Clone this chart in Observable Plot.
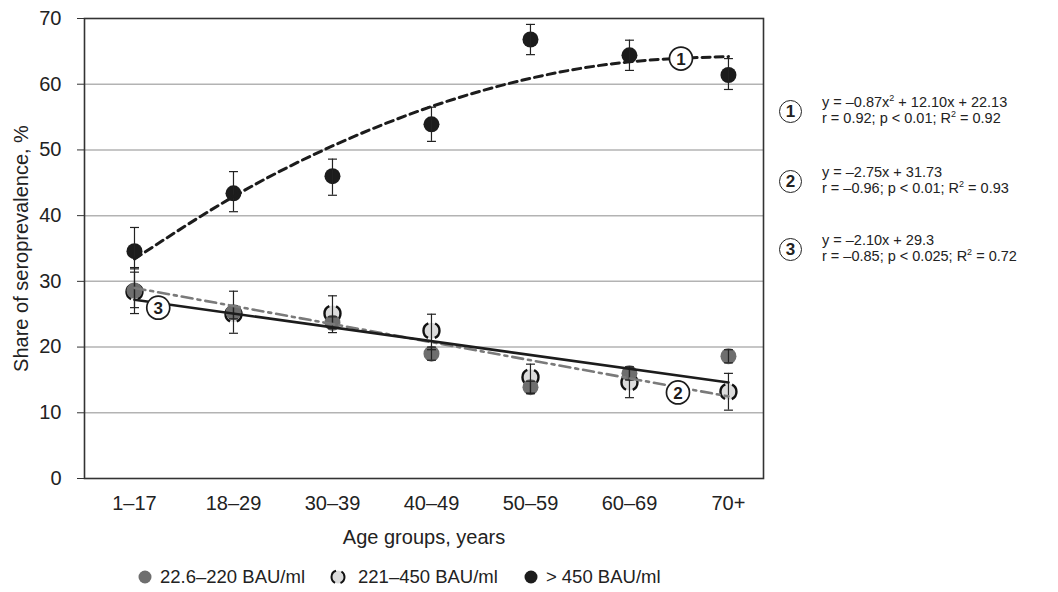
<!DOCTYPE html>
<html>
<head>
<meta charset="utf-8">
<script src="https://cdn.jsdelivr.net/npm/d3@7"></script>
<script src="https://cdn.jsdelivr.net/npm/@observablehq/plot@0.6"></script>
<style>
  html, body { margin: 0; padding: 0; background: #fff; }
  body { width: 1058px; height: 592px; overflow: hidden; font-family: "Liberation Sans", Arial, sans-serif; color: #222; }
  #wrap { position: relative; width: 1058px; }
  .eq { position: absolute; left: 779px; font-size: 14.5px; line-height: 15.5px; color: #222; }
  .eq .num { position: absolute; left: 0; top: 0; width: 21px; height: 21px; border: 1.7px solid #222; border-radius: 50%;
             font-weight: bold; font-size: 17px; line-height: 21px; text-align: center; }
  .eq .lines { position: absolute; left: 43px; top: -5px; white-space: nowrap; }
  .eq sup { font-size: 9px; vertical-align: 6px; line-height: 0; }
  #legend { display: flex; justify-content: flex-start; align-items: center; height: 30px; font-size: 18.5px; padding-left: 136px; }
  #legend .item { display: flex; align-items: center; margin-right: 24px; }
  #legend svg { margin-right: 6px; }
  #legend .item.b svg { margin-right: 11px; }
</style>
</head>
<body>
<div id="wrap"></div>
<script>
// ---- data ----
const groups = ["1–17", "18–29", "30–39", "40–49", "50–59", "60–69", "70+"];
const seriesNames = ["22.6–220 BAU/ml", "221–450 BAU/ml", "> 450 BAU/ml"];

const lowVals  = [28.6, 25.3, 23.7, 19.0, 13.9, 16.0, 18.6];
const lowErrLo = [25.1, 24.3, 22.8, 18.0, 13.0, 15.0, 17.6];
const lowErrHi = [32.1, 26.3, 24.6, 20.0, 14.8, 17.0, 19.6];

const midVals  = [28.4, 25.0, 25.1, 22.5, 15.4, 14.6, 13.2];
const midErrLo = [26.0, 22.1, 22.2, 19.6, 12.9, 12.3, 10.4];
const midErrHi = [31.4, 28.5, 27.8, 25.0, 17.4, 16.8, 16.0];

const highVals  = [34.6, 43.4, 46.0, 53.9, 66.8, 64.4, 61.4];
const highErrLo = [31.9, 40.6, 43.1, 51.3, 64.5, 62.1, 59.2];
const highErrHi = [38.2, 46.7, 48.6, 56.5, 69.1, 66.7, 63.9];

// trend lines (at group positions)
const trend1 = [33.4, 42.9, 50.6, 56.6, 60.9, 63.4, 64.2];   // quadratic, curve 1
const trend2Ends = [29.0, 12.5];                               // dash-dot line 2 (first, last group)
const trend3Ends = [27.2, 14.6];                               // solid line 3 (first, last group)

// numbered labels on the lines
const labelNums = ["1", "2", "3"];
const labelPos  = [5.52, 5.49, 0.24];   // position along the age axis (group index units)
const labelVals = [63.9, 13.1, 26.0];

const equations = [
  ["y = –0.87x<sup>2</sup> + 12.10x + 22.13", "r = 0.92; p &lt; 0.01; R<sup>2</sup> = 0.92"],
  ["y = –2.75x + 31.73", "r = –0.96; p &lt; 0.01; R<sup>2</sup> = 0.93"],
  ["y = –2.10x + 29.3", "r = –0.85; p &lt; 0.025; R<sup>2</sup> = 0.72"]
];

// ---- build tables ----
const idx = groups.map((_, i) => i);
const mk = (vals, lo, hi) => idx.map(i => ({i, v: vals[i], lo: lo[i], hi: hi[i]}));
const low = mk(lowVals, lowErrLo, lowErrHi);
const mid = mk(midVals, midErrLo, midErrHi);
const high = mk(highVals, highErrLo, highErrHi);
const t1 = idx.map(i => ({i, v: trend1[i]}));
const last = idx.length - 1;
const t2 = [{i: 0, v: trend2Ends[0]}, {i: last, v: trend2Ends[1]}];
const t3 = [{i: 0, v: trend3Ends[0]}, {i: last, v: trend3Ends[1]}];
const labels = labelNums.map((n, k) => ({n, i: labelPos[k], v: labelVals[k]}));

const cap = {draw(ctx) { ctx.moveTo(-4.5, 0); ctx.lineTo(4.5, 0); }};

const GRAY = "#6e6e6e", LIGHT = "#dcdcdc", BLACK = "#1c1c1c";
const R = 8;
const circ = 2 * Math.PI * R, deg = circ / 360;
const bracketDash = [65 * deg, 50 * deg, 130 * deg, 50 * deg, 65 * deg].map(d => d.toFixed(2)).join(" ");

function errMarks(data) {
  return [
    Plot.ruleX(data, {x: "i", y1: "lo", y2: "hi", stroke: "#222", strokeWidth: 1.2}),
    Plot.dot(data, {x: "i", y: "lo", symbol: cap, stroke: "#222", strokeWidth: 1.2, r: 4}),
    Plot.dot(data, {x: "i", y: "hi", symbol: cap, stroke: "#222", strokeWidth: 1.2, r: 4})
  ];
}

const chart = Plot.plot({
  width: 1058,
  height: 562,
  marginLeft: 84,
  marginRight: 295,
  marginTop: 18,
  marginBottom: 84,
  style: {fontFamily: "'Liberation Sans', Arial, sans-serif", fontSize: "20px", color: "#222", background: "#fff"},
  x: {domain: [-0.505, 6.354], ticks: idx, tickFormat: i => groups[i]},
  y: {domain: [0, 70], ticks: d3.range(0, 71, 10)},
  marks: [
    Plot.gridY({ticks: d3.range(10, 70, 10), stroke: "#b3b3b3", strokeOpacity: 1, strokeWidth: 1.5}),
    Plot.axisX({ticks: idx, tickFormat: i => groups[i], tickSize: 0, tickPadding: 17, fontSize: 20,
                label: "Age groups, years", labelAnchor: "center", labelOffset: 65, labelArrow: "none"}),
    Plot.axisY({ticks: d3.range(0, 71, 10), tickSize: 7, tickPadding: 16, fontSize: 20, stroke: "#333",
                label: "Share of seroprevalence, %", labelAnchor: "center", labelOffset: 71, labelArrow: "none"}),
    // mid series (bracketed light dots)
    Plot.dot(mid, {x: "i", y: "v", r: R, fill: LIGHT, stroke: "#111", strokeWidth: 2.4, strokeDasharray: bracketDash}),
    // low series
    Plot.dot(low, {x: "i", y: "v", r: R, fill: GRAY, stroke: "none"}),
    // high series
    Plot.dot(high, {x: "i", y: "v", r: R, fill: BLACK, stroke: "none"}),
    ...errMarks(mid),
    ...errMarks(low),
    ...errMarks(high),
    // trend lines
    Plot.line(t2, {x: "i", y: "v", stroke: "#7a7a7a", strokeWidth: 2.6, strokeDasharray: "11 5 3 5"}),
    Plot.line(t3, {x: "i", y: "v", stroke: BLACK, strokeWidth: 2.6}),
    Plot.line(t1, {x: "i", y: "v", curve: "natural", stroke: BLACK, strokeWidth: 3, strokeDasharray: "8 5"}),
    // numbered labels
    Plot.dot(labels, {x: "i", y: "v", r: 11.5, fill: "#fff", stroke: BLACK, strokeWidth: 1.7}),
    Plot.text(labels, {x: "i", y: "v", text: "n", fontSize: 17, fontWeight: "bold", fill: BLACK, dy: 1}),
    Plot.frame({stroke: "#333", strokeWidth: 1.6})
  ]
});

const wrap = document.getElementById("wrap");
wrap.appendChild(chart);

// equations on the right
const eqTops = [100, 170, 238];
equations.forEach((lines, k) => {
  const d = document.createElement("div");
  d.className = "eq";
  d.style.top = eqTops[k] + "px";
  d.innerHTML = `<div class="num">${labelNums[k]}</div><div class="lines">${lines[0]}<br>${lines[1]}</div>`;
  wrap.appendChild(d);
});

// legend below
const legend = document.createElement("div");
legend.id = "legend";
const sw = (kind) => {
  if (kind === 0) return `<svg width="18" height="18"><circle cx="9" cy="9" r="6.5" fill="${GRAY}"/></svg>`;
  if (kind === 1) {
    const rr = 6.5, dg = 2 * Math.PI * rr / 360;
    const dash = [65 * dg, 50 * dg, 130 * dg, 50 * dg, 65 * dg].map(v => v.toFixed(2)).join(" ");
    return `<svg width="18" height="18"><circle cx="9" cy="9" r="${rr}" fill="${LIGHT}" stroke="#111" stroke-width="2" stroke-dasharray="${dash}"/></svg>`;
  }
  return `<svg width="18" height="18"><circle cx="9" cy="9" r="6.5" fill="${BLACK}"/></svg>`;
};
legend.innerHTML = seriesNames.map((n, k) => `<div class="item${k === 1 ? " b" : ""}">${sw(k)}<span>${n}</span></div>`).join("");
document.body.appendChild(legend);
</script>
</body>
</html>
